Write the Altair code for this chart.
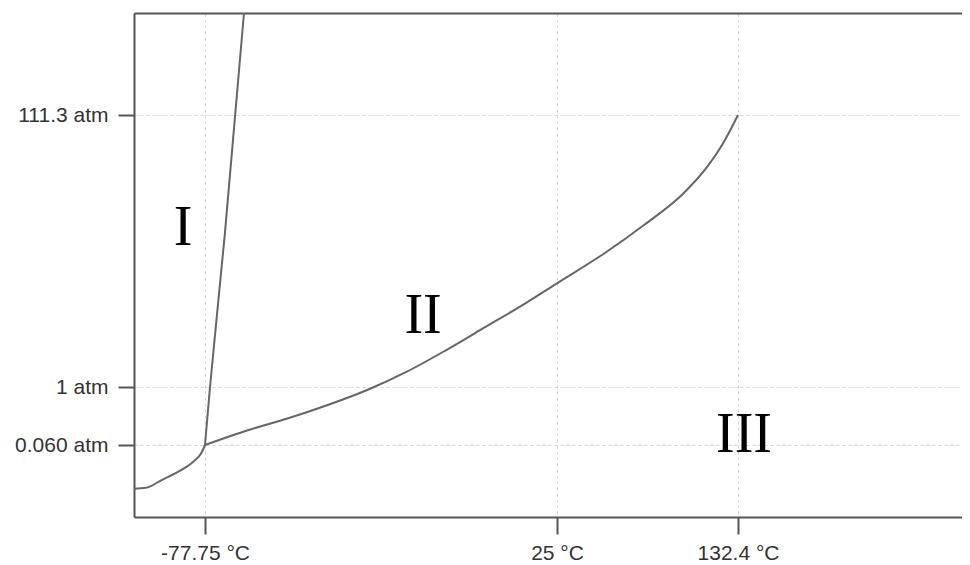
import altair as alt
import pandas as pd

# Tick values and labels
x_ticks = [-77.75, 25, 132.4]
x_tick_labels = ["-77.75 °C", "25 °C", "132.4 °C"]
y_ticks = [0.06, 1, 111.3]
y_tick_labels = ["0.060 atm", "1 atm", "111.3 atm"]

# Curves (temperature °C, pressure atm)
sub_t = [-100, -96.3, -91.35, -85.15, -81.42, -78.94, -77.75]
sub_p = [0.0236, 0.0243, 0.0308, 0.0392, 0.0461, 0.0531, 0.06]

melt_t = [-77.75, -76.29, -71.94, -66.37]
melt_p = [0.06, 1, 63.3, 150]

vap_t = [-77.75, -65.02, -53.46, -41.93, -30.40, -18.84, -7.31, 4.24, 15.77,
         25.0, 53.19, 76.62, 100.12, 114.18, 123.56, 132.4]
vap_p = [0.06, 0.303, 0.493, 0.708, 0.951, 7.20, 16.0, 25.45, 34.94,
         43.05, 55.22, 66.69, 79.55, 90.33, 99.82, 111.3]

# Region labels
region_text = ["I", "II", "III"]
region_t = [-84.6, -14.1, 134.2]
region_p = [58.6, 22.9, 0.0542]

rows = []
for name, ts, ps in [("sub", sub_t, sub_p), ("melt", melt_t, melt_p), ("vap", vap_t, vap_p)]:
    for i, (t, p) in enumerate(zip(ts, ps)):
        rows.append({"curve": name, "i": i, "T": t, "P": p})
curves = pd.DataFrame(rows)
labels = pd.DataFrame({"text": region_text, "T": region_t, "P": region_p})


def label_expr(vals, labs):
    parts = " : ".join(f"datum.value == {v} ? '{l}'" for v, l in zip(vals, labs))
    return parts + " : ''"


W, H = 828, 504
x_scale = alt.Scale(domain=[-100, -77.75, 25, 132.4, 200],
                    range=[0, 71, 423, 604, W], nice=False, zero=False)
y_scale = alt.Scale(domain=[0, 0.06, 1, 111.3, 150],
                    range=[H, 432, 374, 102, 0], nice=False, zero=False)

x_axis = alt.Axis(values=x_ticks, labelExpr=label_expr(x_ticks, x_tick_labels),
                  title=None, grid=True, tickSize=17, labelPadding=8,
                  labelFlush=False, labelOverlap=False)
y_axis = alt.Axis(values=y_ticks, labelExpr=label_expr(y_ticks, y_tick_labels),
                  title=None, grid=True, tickSize=16, labelPadding=10,
                  labelOverlap=False)

lines = alt.Chart(curves).mark_line(
    interpolate="monotone", color="#666666", strokeWidth=2
).encode(
    x=alt.X("T:Q", scale=x_scale, axis=x_axis),
    y=alt.Y("P:Q", scale=y_scale, axis=y_axis),
    detail="curve:N",
    order="i:Q",
)

text = alt.Chart(labels).mark_text(
    font="Liberation Serif", fontSize=56, color="black",
    align="center", baseline="alphabetic"
).encode(
    x=alt.X("T:Q", scale=x_scale,
            axis=alt.Axis(orient="top", labels=False, ticks=False, grid=False,
                          domain=True, title=None)),
    y=alt.Y("P:Q", scale=y_scale),
    text="text:N",
)

chart = alt.layer(lines, text).resolve_axis(x="independent").properties(
    width=W, height=H,
    autosize=alt.AutoSizeParams(type="none"),
    padding={"left": 126, "top": 5, "right": 0, "bottom": 46},
).configure_view(stroke=None).configure_axis(
    domainColor="#555555", domainWidth=2,
    tickColor="#555555", tickWidth=2,
    gridColor="#d4d4d4", gridDash=[3, 3], gridWidth=1,
    labelFont="Liberation Sans", labelFontSize=21, labelColor="#333333",
)

chart.save("out.html", embed_options={"renderer": "svg", "actions": False})
